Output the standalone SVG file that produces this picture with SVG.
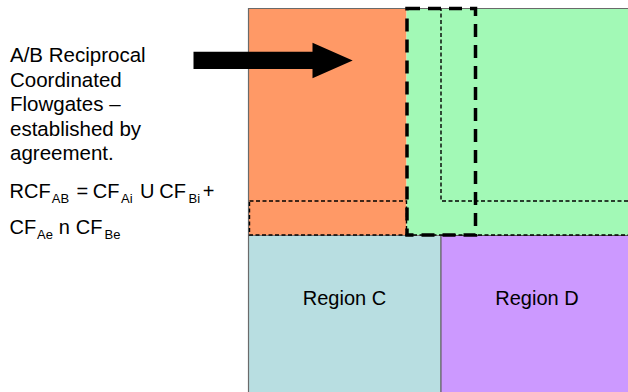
<svg xmlns="http://www.w3.org/2000/svg" width="628" height="392" viewBox="0 0 628 392">
<style>
.t{font-family:"Liberation Sans",Arial,sans-serif;font-size:20px;fill:#000}
.b{font-size:20.5px}
.s{font-size:13px}
.fine{fill:none;stroke:#000;stroke-width:1.4;stroke-dasharray:4 2.5}
.thick{fill:none;stroke:#000;stroke-width:3.5;stroke-dasharray:13 8}
</style>
<rect width="628" height="392" fill="#fff"/>
<g id="regionA"><rect x="248.5" y="8.5" width="158" height="227" fill="#FF9966"/></g>
<g id="regionB"><rect x="406.5" y="8.5" width="222" height="227" fill="#A2F9B6"/></g>
<g id="regionC"><rect x="248.5" y="235.5" width="192.5" height="157" fill="#B8DEE1" stroke="#7a7a7a" stroke-width="1"/>
<text class="t" x="344.5" y="305" text-anchor="middle">Region C</text></g>
<g id="regionD"><rect x="441" y="235.5" width="188" height="157" fill="#CC99FF" stroke="#555" stroke-width="1"/>
<text class="t" x="537" y="305" text-anchor="middle">Region D</text></g>
<g id="frame"><path d="M248.5 392 V8.5 H628" fill="none" stroke="#6a6a6a" stroke-width="1.2"/></g>
<g id="connectors">
<rect class="fine" x="249.5" y="201" width="157" height="34"/>
<path class="fine" d="M628 201 H441 V8.5"/>
<path class="fine" d="M406.5 235 H628"/>
<rect class="thick" x="407" y="8.5" width="68.5" height="226.5"/>
<polygon points="193.5,51.7 312.5,51.7 312.5,42.7 352.7,60.5 312.5,78.3 312.5,69 193.5,69" fill="#000"/>
</g>
<g id="label">
<text class="t b" x="10" y="62">A/B Reciprocal</text>
<text class="t b" x="10" y="86.5">Coordinated</text>
<text class="t b" x="10" y="111">Flowgates –</text>
<text class="t b" x="10" y="135.5">established by</text>
<text class="t b" x="10" y="160">agreement.</text>
<text class="t" y="198.3"><tspan x="9.5">RCF</tspan><tspan class="s" x="51.8" dy="4.5">AB</tspan><tspan x="76.5" dy="-4.5">=</tspan><tspan x="92.8">CF</tspan><tspan class="s" x="121" dy="4.5">Ai</tspan><tspan x="140" dy="-4.5">U</tspan><tspan x="159.3">CF</tspan><tspan class="s" x="188.5" dy="4.5">Bi</tspan><tspan x="202.8" dy="-4.5">+</tspan></text>
<text class="t" y="234.3"><tspan x="9.5">CF</tspan><tspan class="s" x="37" dy="4.5">Ae</tspan><tspan x="58.7" dy="-4.5">n</tspan><tspan x="75.8">CF</tspan><tspan class="s" x="104.5" dy="4.5">Be</tspan></text>
</g>
</svg>
